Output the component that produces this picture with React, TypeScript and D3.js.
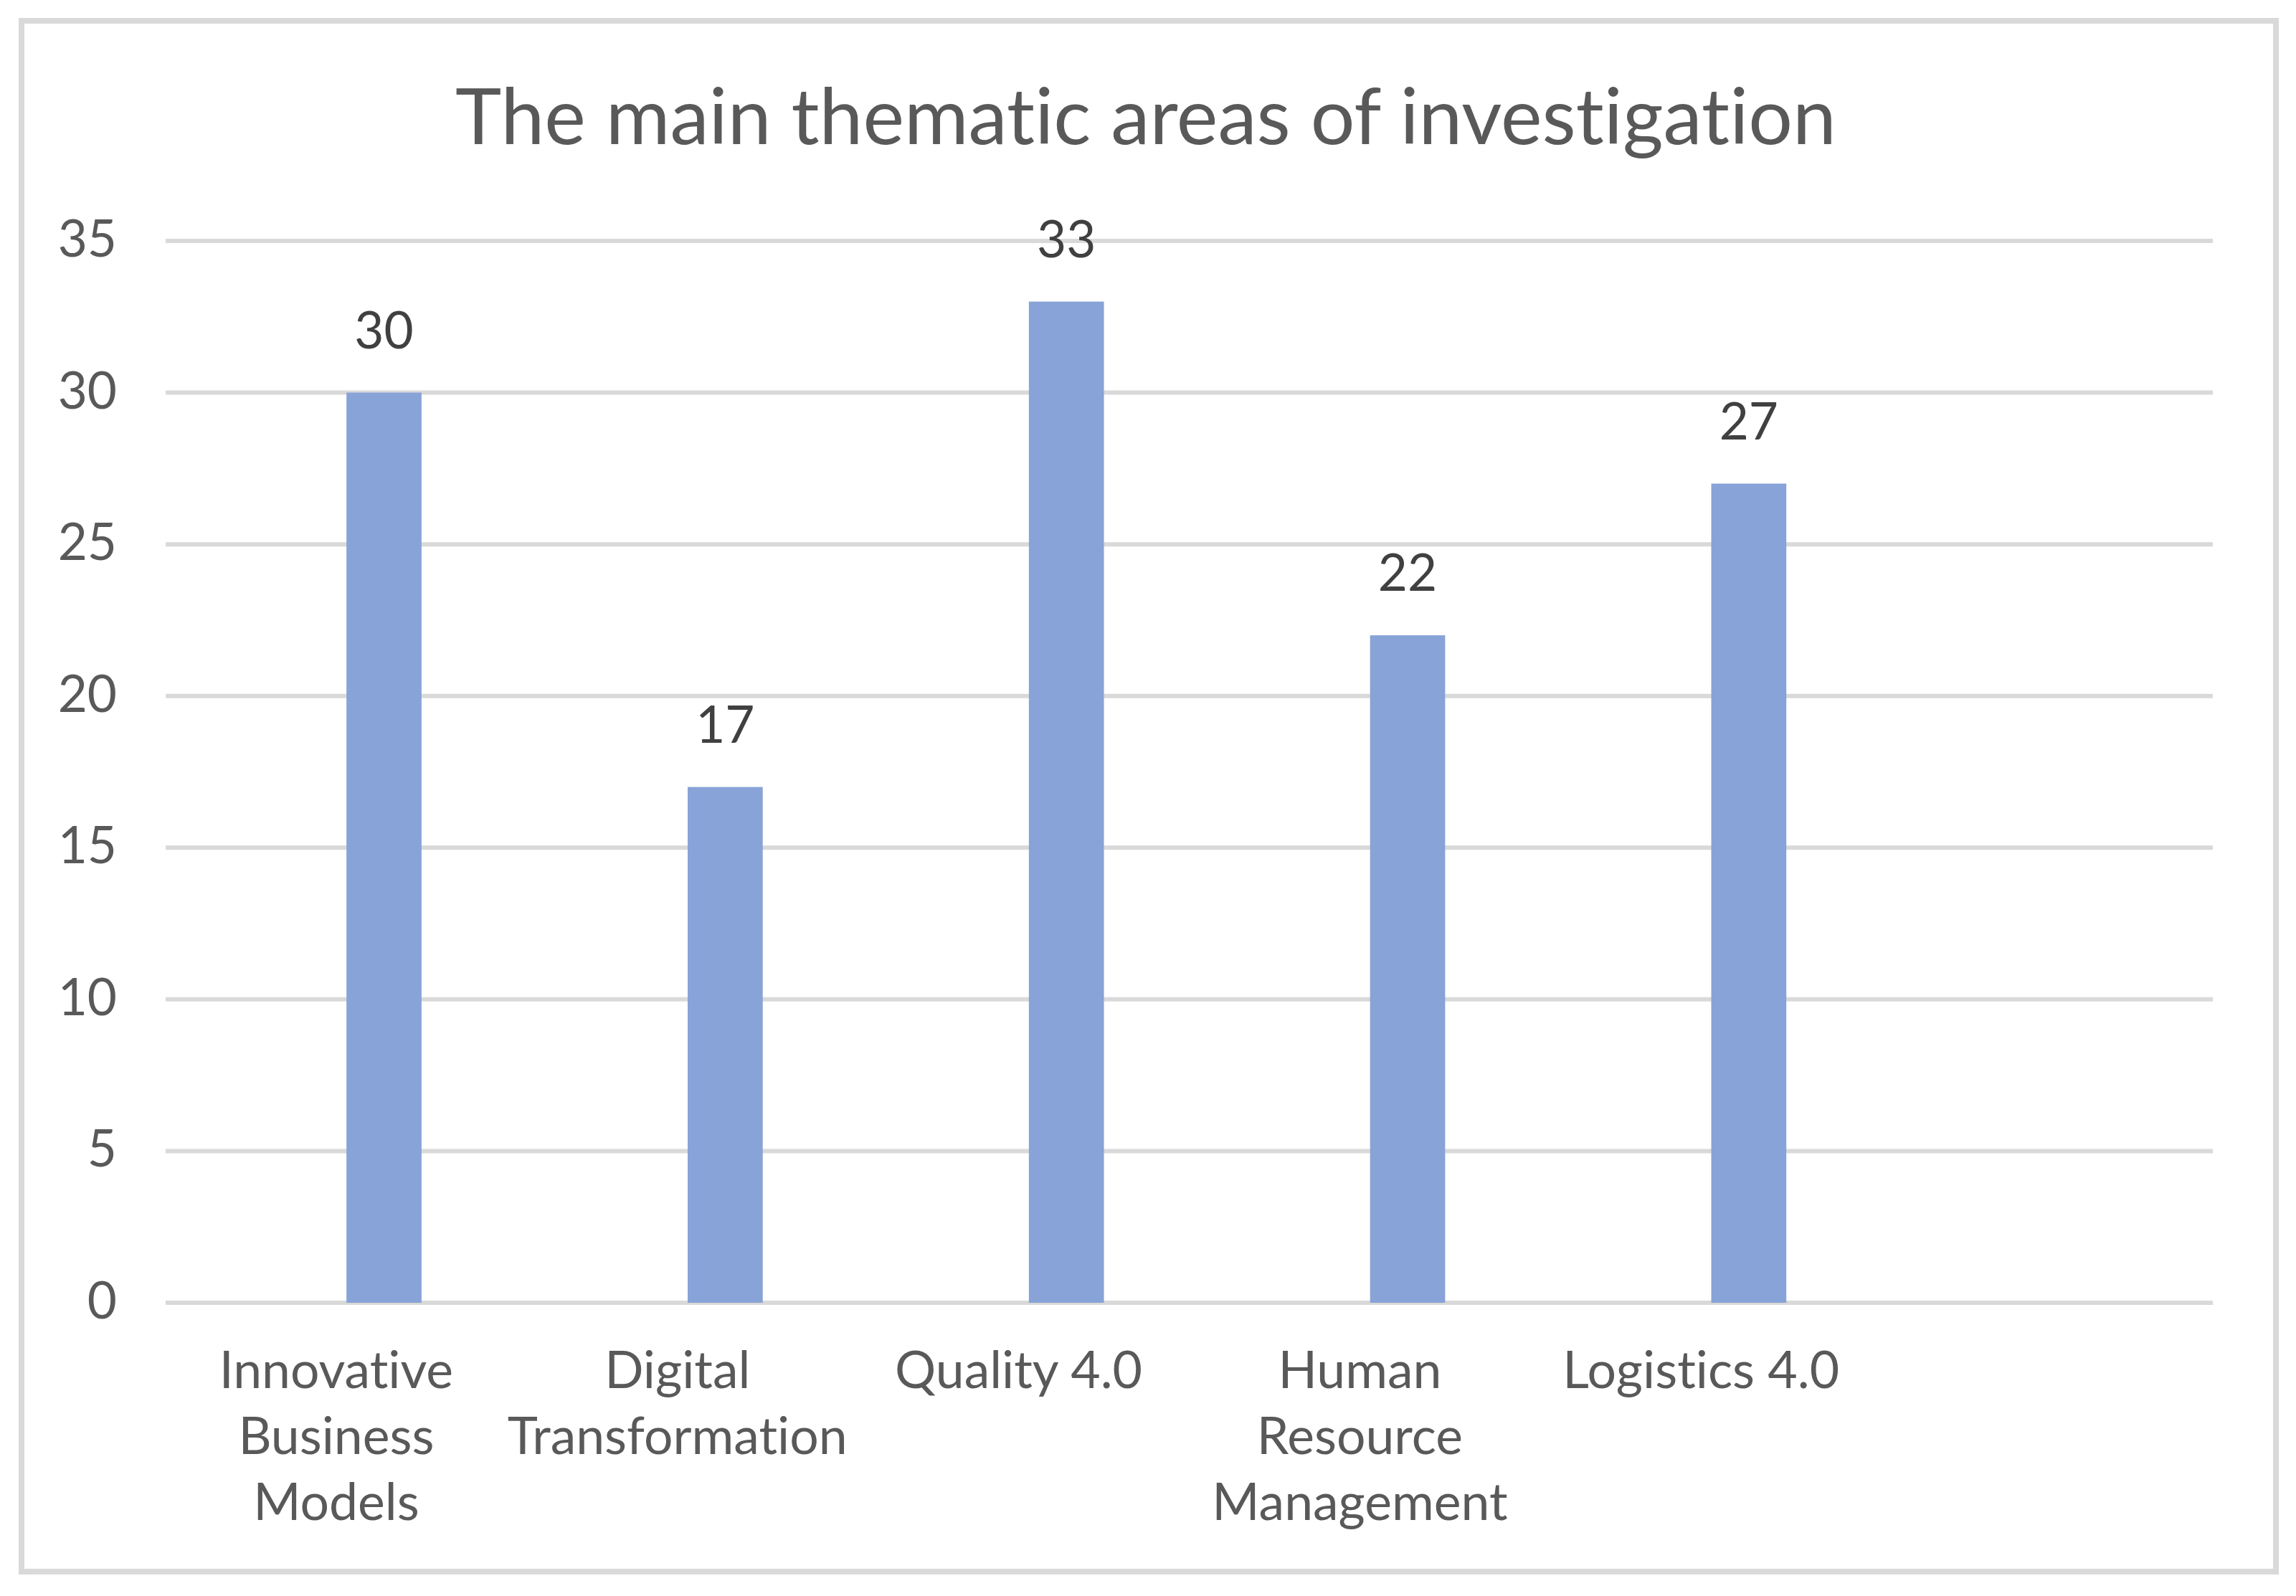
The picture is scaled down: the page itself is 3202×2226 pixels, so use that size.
import React from "react";
import * as d3 from "d3";

const title = "The main thematic areas of investigation";
const categories = [
  "Innovative Business Models",
  "Digital Transformation",
  "Quality 4.0",
  "Human Resource Management",
  "Logistics 4.0",
  "",
];
const categoryLines = [
  ["Innovative", "Business", "Models"],
  ["Digital", "Transformation"],
  ["Quality 4.0"],
  ["Human", "Resource", "Management"],
  ["Logistics 4.0"],
  [],
];
const values: (number | null)[] = [30, 17, 33, 22, 27, null];
const yTicks = [0, 5, 10, 15, 20, 25, 30, 35];

const W = 3202;
const H = 2226;
const FONT = "Lato, 'Open Sans', sans-serif";
const noLig = { fontVariantLigatures: "none" as const };

export default function App() {
  const x = d3.scaleBand<string>().domain(categories).range([231, 3086]).padding(0);
  const y = d3.scaleLinear().domain([0, 35]).range([1817, 336]);
  const bw = x.bandwidth();
  const barW = bw * 0.22;
  const barCenter = (c: string) => (x(c) as number) + bw * 0.64;
  const catCenter = (c: string) => (x(c) as number) + bw / 2;

  return (
    <svg
      width={W}
      height={H}
      viewBox={`0 0 ${W} ${H}`}
      style={{ position: "absolute", left: 0, top: 0, display: "block", background: "#fff" }}
    >
      <rect x={0} y={0} width={W} height={H} fill="#ffffff" />
      <rect x={30} y={29} width={3144} height={2163} fill="#ffffff" stroke="#D9D9D9" strokeWidth={8} />
      <text
        x={1598}
        y={201}
        textAnchor="middle"
        fontFamily={FONT}
        fontSize={109}
        fill="#595959"
        style={noLig}
      >
        {title}
      </text>
      <g>
        {yTicks.map((t) => (
          <line
            key={"g" + t}
            x1={231}
            x2={3086}
            y1={y(t)}
            y2={y(t)}
            stroke="#D9D9D9"
            strokeWidth={6}
          />
        ))}
        {yTicks.map((t) => (
          <text
            key={"t" + t}
            x={163}
            y={y(t) + 22}
            textAnchor="end"
            fontFamily={FONT}
            fontSize={71}
            fill="#595959"
          >
            {t}
          </text>
        ))}
      </g>
      <g>
        {categories.map((c, i) =>
          values[i] == null ? null : (
            <rect
              key={"b" + i}
              x={barCenter(c) - barW / 2}
              y={y(values[i] as number)}
              width={barW}
              height={y(0) - y(values[i] as number)}
              fill="#87A3D7"
            />
          )
        )}
        {categories.map((c, i) =>
          values[i] == null ? null : (
            <text
              key={"l" + i}
              x={barCenter(c)}
              y={y(values[i] as number) - 62}
              textAnchor="middle"
              fontFamily={FONT}
              fontSize={71}
              fill="#404040"
            >
              {values[i]}
            </text>
          )
        )}
      </g>
      <g>
        {categories.map((c, i) => (
          <text
            key={"c" + i}
            x={catCenter(c)}
            y={1936}
            textAnchor="middle"
            fontFamily={FONT}
            fontSize={71.5}
            fill="#595959"
            style={noLig}
          >
            {categoryLines[i].map((ln, j) => (
              <tspan key={j} x={catCenter(c)} dy={j === 0 ? 0 : 92}>
                {ln}
              </tspan>
            ))}
          </text>
        ))}
      </g>
    </svg>
  );
}
